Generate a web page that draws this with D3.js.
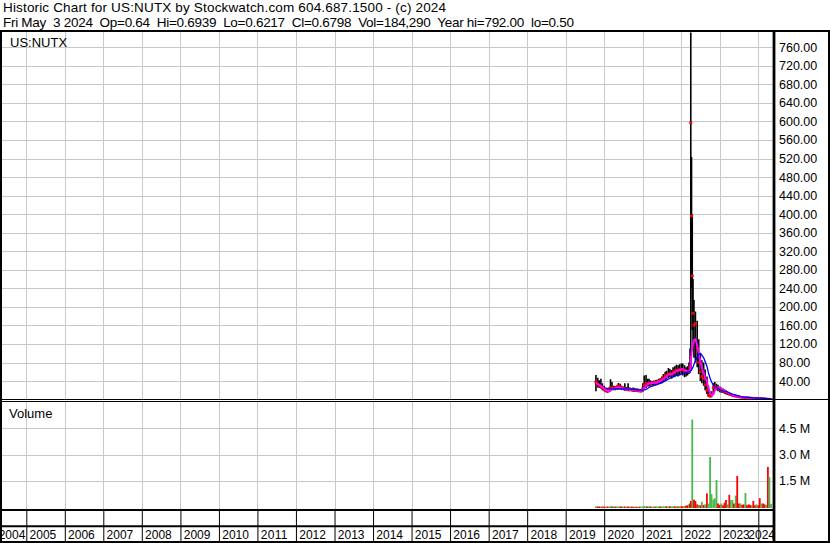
<!DOCTYPE html>
<html><head><meta charset="utf-8">
<script src="https://cdn.jsdelivr.net/npm/d3@7"></script>
<style>body{margin:0;background:#fff}svg{display:block;font-family:"Liberation Sans",Arial,sans-serif}</style>
</head><body><svg id="c" width="830" height="543"></svg>
<script>
const dates = ["2019-10-15","2019-11-01","2019-11-15","2019-12-01","2019-12-15",
"2020-01-01","2020-01-15","2020-02-01","2020-02-15","2020-03-01","2020-03-15","2020-04-01","2020-04-15","2020-05-01","2020-05-15","2020-06-01","2020-06-15","2020-07-01","2020-07-15","2020-08-01","2020-08-15","2020-09-01","2020-09-15","2020-10-01","2020-10-15","2020-11-01","2020-11-15","2020-12-01","2020-12-15",
"2021-01-01","2021-01-15","2021-02-01","2021-02-15","2021-03-01","2021-03-15","2021-04-01","2021-04-15","2021-05-01","2021-05-15","2021-06-01","2021-06-15","2021-07-01","2021-07-15","2021-08-01","2021-08-15","2021-09-01","2021-09-15","2021-10-01","2021-10-15","2021-11-01","2021-11-15","2021-12-01","2021-12-15",
"2022-01-01","2022-01-15","2022-02-01","2022-02-15","2022-03-01","2022-03-15","2022-03-25","2022-04-01","2022-04-08","2022-04-15","2022-04-22","2022-05-01","2022-05-15","2022-06-01","2022-06-15","2022-07-01","2022-07-15","2022-08-01","2022-08-15","2022-09-01","2022-09-15","2022-10-01","2022-10-15","2022-11-01","2022-11-15","2022-12-01","2022-12-15",
"2023-01-01","2023-01-15","2023-02-01","2023-02-15","2023-03-01","2023-03-15","2023-04-01","2023-04-15","2023-05-01","2023-05-15","2023-06-01","2023-06-15","2023-07-01","2023-07-15","2023-08-01","2023-08-15","2023-09-01","2023-09-15","2023-10-01","2023-10-15","2023-11-01","2023-11-15","2023-12-01","2023-12-15",
"2024-01-01","2024-01-15","2024-02-01","2024-02-15","2024-03-01","2024-03-15","2024-04-01","2024-04-15","2024-05-01"];

const high = [53,47,42,45,35,
30,26,24,26,44,38,30,29,31,36,34,30,28,35,27,35,26,25,26,25,24,24,23,23,
35,52,53,45,45,42,40,41,42,43,45,46,50,55,60,62,68,66,64,70,72,75,74,76,
78,78,74,70,72,80,110,792,523,400,260,215,190,170,130,100,85,80,65,50,30,16,18,35,38,34,32,
28,26,24,22,20,18,16,14,12,11,10,9,8,7,6.5,6,5.5,5,4.8,4.5,4.3,4,3.8,3.6,
3.4,3.2,3,2.8,2.6,2.4,2.2,1.8,0.69];

const low = [18,26,25,24,20,
18,16,15,16,18,20,20,20,21,22,22,21,20,19,19,18,18,18,17,17,17,16,16,16,
17,22,25,28,28,30,30,31,31,32,33,34,36,38,40,44,46,48,45,48,50,52,50,52,
55,52,48,50,52,55,58,62,240,150,120,90,80,70,55,40,35,30,20,12,6,5,5,12,20,20,18,
16,15,14,12,11,10,9,8,7,6,5.5,5,4.5,4,3.8,3.5,3.3,3.1,3,2.8,2.6,2.4,2.2,2,
1.9,1.8,1.6,1.4,1.2,1,0.8,0.6,0.5];

const close = [38,33,30,28,26,
22,19,18,20,26,25,24,25,27,30,28,25,24,23,22,22,21,21,20,21,20,19,19,18,
24,32,35,34,36,35,36,37,36,38,40,41,44,46,50,53,56,55,54,58,61,64,62,65,
66,64,62,60,61,62,70,597,396,267,186,160,164,110,80,60,50,45,32,20,10,7,10,26,29,27,24,
22,20,19,17,15,14,12,11,9,8,7,6.5,6,5,4.8,4.5,4.2,4,3.8,3.5,3.3,3.1,2.9,2.7,
2.5,2.3,2.1,1.9,1.7,1.5,1.2,0.9,0.68];

const maShort = [36,34,32,29,27,
24,21,19,18,20,23,24,24,25,26,26,25,24,23,22,22,21,21,21,21,20,20,19,19,
21,25,30,33,35,35,36,36,37,37,39,40,42,44,47,50,54,55,55,56,59,62,63,64,
65,66,64,62,61,60,62,85,100,112,120,128,130,118,100,82,68,58,48,38,25,14,9,12,20,25,26,
25,23,21,19,17,15,13,12,10,9,8,7,6,5.5,5,4.6,4.3,4,3.8,3.6,3.4,3.2,3,2.8,
2.6,2.4,2.2,2,1.8,1.6,1.3,1.0,0.8];

const maLong = [null,null,null,null,null,
null,24,24,23.5,23,23,23,23,23,23,23,23,23,23,23,22.5,22.5,22,22,22,21.5,21,21,20.5,
20.5,21,22,24,26,28,29,30,31,32,34,35,36,38,40,42,44,46,48,49,50,52,53,54,
55,56,57,58,59,60,60,62,64,67,70,76,84,92,98,100,96,90,82,72,58,46,38,32,28,26,24,
22,20,19,18,17,16,14.5,13,12,11,10,9,8,7,6,5.5,5,4.8,4.5,4.3,4.1,3.9,3.7,3.5,
3.3,3.1,2.9,2.7,2.5,2.3,2.1,1.9,1.7];

// volume in millions of shares
const volume = [0.04,0.03,0.03,0.03,0.02,
0.03,0.02,0.03,0.02,0.05,0.03,0.03,0.02,0.03,0.03,0.03,0.02,0.02,0.03,0.02,0.03,0.02,0.02,0.02,0.02,0.02,0.02,0.02,0.02,
0.03,0.05,0.04,0.03,0.03,0.03,0.02,0.03,0.02,0.03,0.03,0.03,0.03,0.04,0.04,0.04,0.03,0.04,0.03,0.04,0.04,0.04,0.03,0.04,
0.04,0.04,0.06,0.08,0.1,0.15,0.2,0.35,0.25,5.0,0.3,0.42,0.34,0.15,0.12,0.1,0.3,0.12,0.15,0.78,0.2,2.86,0.73,0.43,0.5,1.54,0.2,
0.12,0.2,0.1,0.25,0.4,0.15,0.7,0.4,0.4,0.2,0.65,1.77,0.2,0.2,0.12,0.15,0.8,0.1,0.15,0.12,0.1,0.35,0.1,0.15,
0.1,0.5,0.2,0.2,0.15,0.12,2.29,1.71,0.18];
// 1 = up (green), 0 = down (red)
const volUp = [1,0,0,1,0,
0,1,0,1,1,0,1,0,1,1,0,0,1,0,1,0,1,0,0,1,0,1,0,1,
1,1,1,0,1,0,1,1,0,1,1,0,1,1,1,0,1,0,1,1,0,1,0,1,
0,0,1,0,0,1,0,0,0,1,1,0,0,0,1,0,1,0,1,0,1,1,1,1,1,1,0,
0,1,0,0,0,1,0,1,1,0,1,0,0,1,0,0,1,0,0,0,1,0,0,1,
0,0,1,0,0,1,0,1,1];

const priceTicks = [40,80,120,160,200,240,280,320,360,400,440,480,520,560,600,640,680,720,760];
const volTicks = [1.5,3.0,4.5];
const years = [2004,2005,2006,2007,2008,2009,2010,2011,2012,2013,2014,2015,2016,2017,2018,2019,2020,2021,2022,2023,2024];
const headerLines = ["Historic Chart for US:NUTX by Stockwatch.com 604.687.1500 - (c) 2024",
"Fri May  3 2024  Op=0.64  Hi=0.6939  Lo=0.6217  Cl=0.6798  Vol=184,290  Year hi=792.00  lo=0.50"];
const headerWidths = [443, 571];
const symbol = "US:NUTX";

const parse = d3.timeParse("%Y-%m-%d");
const pts = dates.map((d,i)=>({t:parse(d),h:high[i],l:low[i],c:close[i],m1:maShort[i],m2:maLong[i],v:volume[i],u:volUp[i]}));

const W=830,H=543;
const PL=2, PR=773;      // plot left/right
const PT=32, PB=399.6;   // price panel
const VT=402, VB=507;    // volume panel
const svg=d3.select("#c");
svg.append("rect").attr("width",W).attr("height",H).attr("fill","#fff");

const x=d3.scaleTime().domain([new Date(2005,0,1),new Date(2024,0,1)]).range([26.3,758.3]);
const yP=d3.scaleLinear().domain([0,795]).range([PB,31]);
const yV=d3.scaleLinear().domain([0,6]).range([VB,402]);
const yearDates=years.map(y=>new Date(y,0,1));
const gridYears=yearDates.filter(d=>x(d)>PL && x(d)<PR);

// header
svg.selectAll("text.hdr").data(headerLines).join("text").attr("class","hdr")
  .attr("x",3).attr("y",(d,i)=>12+i*15).attr("font-size",13.5).attr("fill","#000")
  .attr("textLength",(d,i)=>headerWidths[i]).attr("lengthAdjust","spacing")
  .style("white-space","pre").text(d=>d);

// gridlines
const grid=svg.append("g").attr("stroke","#c8c8c8").attr("stroke-width",1);
grid.selectAll("line.gv").data(gridYears).join("line").attr("class","gv")
  .attr("x1",d=>Math.round(x(d))+0.5).attr("x2",d=>Math.round(x(d))+0.5).attr("y1",PT).attr("y2",399);
grid.selectAll("line.gh").data(priceTicks).join("line").attr("class","gh")
  .attr("x1",PL).attr("x2",PR).attr("y1",d=>Math.round(yP(d))+0.5).attr("y2",d=>Math.round(yP(d))+0.5);
grid.selectAll("line.vv").data(gridYears).join("line").attr("class","vv")
  .attr("x1",d=>Math.round(x(d))+0.5).attr("x2",d=>Math.round(x(d))+0.5).attr("y1",VT).attr("y2",509);
grid.selectAll("line.vh").data(volTicks).join("line").attr("class","vh")
  .attr("x1",PL).attr("x2",PR).attr("y1",d=>Math.round(yV(d))+0.5).attr("y2",d=>Math.round(yV(d))+0.5);

svg.append("text").attr("x",10).attr("y",47).attr("font-size",13).text(symbol);
svg.append("text").attr("x",9).attr("y",418).attr("font-size",13).text("Volume");

// price marks
svg.append("clipPath").attr("id","cp").append("rect").attr("x",PL).attr("y",PT).attr("width",PR-PL).attr("height",PB-PT);
const gp=svg.append("g").attr("clip-path","url(#cp)");
gp.selectAll("line.hl").data(pts).join("line").attr("class","hl")
  .attr("x1",d=>x(d.t)).attr("x2",d=>x(d.t)).attr("y1",d=>yP(d.h)).attr("y2",d=>yP(d.l))
  .attr("stroke","#000").attr("stroke-width",1.6);
gp.selectAll("rect.cl").data(pts).join("rect").attr("class","cl")
  .attr("x",d=>x(d.t)-1.5).attr("y",d=>yP(d.c)-1.2).attr("width",3).attr("height",2.4).attr("fill","#ff0000");
gp.append("path").datum(pts).attr("fill","none").attr("stroke","#ff00ff").attr("stroke-width",2)
  .attr("d",d3.line().x(d=>x(d.t)).y(d=>yP(d.m1)));
gp.append("path").datum(pts.filter(d=>d.m2!=null)).attr("fill","none").attr("stroke","#0000ff").attr("stroke-width",1.3)
  .attr("d",d3.line().x(d=>x(d.t)).y(d=>yP(d.m2)));

// volume bars
svg.selectAll("rect.vb").data(pts).join("rect").attr("class","vb")
  .attr("x",d=>x(d.t)-0.9).attr("width",1.8)
  .attr("y",d=>yV(d.v)).attr("height",d=>508-yV(d.v))
  .attr("fill",d=>d.u?"#4cb84c":"#ff0000");

// right axes
const ay=svg.append("g").attr("transform",`translate(774,0)`)
  .call(d3.axisRight(yP).tickValues(priceTicks).tickFormat(d3.format(".2f")).tickSize(0).tickPadding(5));
const av=svg.append("g").attr("transform",`translate(774,0)`)
  .call(d3.axisRight(yV).tickValues(volTicks).tickFormat(d=>d.toFixed(1)+" M").tickSize(0).tickPadding(5));
[ay,av].forEach(g=>{g.select(".domain").remove();g.selectAll("text").attr("font-size",12.5).attr("font-family","Liberation Sans, Arial, sans-serif").attr("fill","#000");});

// year tick band
const at=svg.append("g").attr("transform","translate(0,511)")
  .call(d3.axisBottom(x).tickValues(gridYears).tickSize(15).tickFormat(""));
at.select(".domain").remove(); at.selectAll("line").attr("stroke","#000");
const as=svg.append("g").attr("transform","translate(0,527)")
  .call(d3.axisBottom(x).tickValues(gridYears).tickSize(14).tickFormat(""));
as.select(".domain").remove(); as.selectAll("line").attr("stroke","#000");

svg.selectAll("text.yr").data(yearDates).join("text").attr("class","yr")
  .attr("x",d=>Math.min(Math.max(x(d)+3.3,-1.3),775-26.7)).attr("y",539).attr("font-size",12)
  .attr("textLength",26.7).text(d=>d.getFullYear());

// frame lines
const fr=svg.append("g").attr("stroke","#000");
fr.append("line").attr("x1",0).attr("x2",W).attr("y1",31).attr("y2",31).attr("stroke-width",2);
fr.append("line").attr("x1",0).attr("x2",W).attr("y1",399.5).attr("y2",399.5).attr("stroke-width",1);
fr.append("line").attr("x1",0).attr("x2",PR).attr("y1",401.5).attr("y2",401.5).attr("stroke-width",1);
fr.append("line").attr("x1",0).attr("x2",PR).attr("y1",510).attr("y2",510).attr("stroke-width",2);
fr.append("line").attr("x1",0).attr("x2",PR).attr("y1",526.2).attr("y2",526.2).attr("stroke-width",2);
fr.append("line").attr("x1",0).attr("x2",W).attr("y1",542).attr("y2",542).attr("stroke-width",2);
fr.append("line").attr("x1",1).attr("x2",1).attr("y1",30).attr("y2",H).attr("stroke-width",2);
fr.append("line").attr("x1",774).attr("x2",774).attr("y1",30).attr("y2",H).attr("stroke-width",2.8);
fr.append("line").attr("x1",829).attr("x2",829).attr("y1",30).attr("y2",H).attr("stroke-width",2);
</script></body></html>
